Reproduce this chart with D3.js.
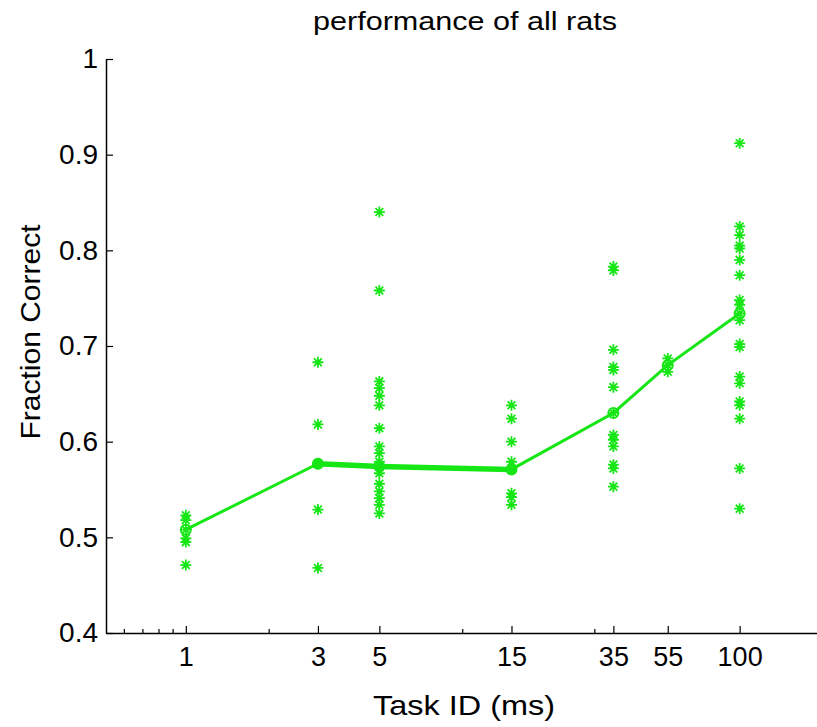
<!DOCTYPE html>
<html>
<head>
<meta charset="utf-8">
<script src="https://cdn.jsdelivr.net/npm/d3@7"></script>
<style>
  html, body { margin: 0; padding: 0; background: #fff; }
  svg text { font-family: "Liberation Sans", Arial, Helvetica, sans-serif; fill: #000; }
</style>
</head>
<body>
<div id="chart"></div>
<script>
const lineColor = '#16e616';
const axisColor = '#000';

// task durations (ms) on the log x axis
const tasks = [1, 3, 5, 15, 35, 55, 100];
const majorTicks = [1, 3, 5, 15, 35, 55, 100];
const minorTicks = [0.6, 0.7, 0.8, 0.9, 2, 10, 30];
const yTicks = [0.4, 0.5, 0.6, 0.7, 0.8, 0.9, 1];

// fraction correct of each rat, per task
const scores1 = [0.523, 0.518, 0.508, 0.499, 0.495, 0.471];
const scores3 = [0.683, 0.618, 0.577, 0.529, 0.468];
const scores5 = [0.840, 0.758, 0.663, 0.656, 0.648, 0.638, 0.614, 0.595, 0.588, 0.579,
  0.574, 0.567, 0.556, 0.548, 0.541, 0.534, 0.525];
const scores15 = [0.638, 0.624, 0.600, 0.579, 0.571, 0.546, 0.542, 0.534];
const scores35 = [0.783, 0.779, 0.696, 0.678, 0.675, 0.657, 0.630, 0.607, 0.602, 0.595,
  0.576, 0.572, 0.553];
const scores55 = [0.687, 0.680, 0.673];
const scores100 = [0.912, 0.825, 0.816, 0.805, 0.802, 0.790, 0.774, 0.748, 0.743, 0.734,
  0.727, 0.702, 0.699, 0.668, 0.661, 0.642, 0.638, 0.624, 0.572, 0.530];

// mean performance per task
const means = [0.508, 0.577, 0.574, 0.571, 0.630, 0.680, 0.734];
// tasks whose mean is drawn twice (thick segment, filled marker)
const doubledTasks = [3, 5, 15];

const width = 817;
const height = 727;

const allScores = [scores1, scores3, scores5, scores15, scores35, scores55, scores100];
const points = [];
allScores.forEach((list, i) => list.forEach(v => points.push({task: tasks[i], value: v})));
const meanPoints = tasks.map((t, i) => ({task: t, value: means[i]}));

const xScale = d3.scaleLog().domain([0.515, 200]).range([106, 823]);
const yScale = d3.scaleLinear().domain([0.4, 1]).range([633, 59]);

const svg = d3.select('#chart').append('svg')
  .attr('width', width)
  .attr('height', height);

// axes
const xAxis = svg.append('g')
  .attr('transform', `translate(0, ${yScale(0.4)})`)
  .call(d3.axisBottom(xScale).tickValues(majorTicks).tickFormat(d3.format('d')).tickSizeInner(-7).tickSizeOuter(0).tickPadding(14));
xAxis.select('.domain').attr('stroke', axisColor).attr('stroke-width', 1.5);
xAxis.selectAll('.tick line').attr('stroke', axisColor).attr('stroke-width', 1.2);
xAxis.selectAll('text').style('font-size', '27px').attr('dy', '0.7em');

svg.append('g')
  .selectAll('line')
  .data(minorTicks)
  .join('line')
  .attr('x1', d => xScale(d)).attr('x2', d => xScale(d))
  .attr('y1', yScale(0.4)).attr('y2', yScale(0.4) - 4)
  .attr('stroke', axisColor).attr('stroke-width', 1.2);

const yAxis = svg.append('g')
  .attr('transform', `translate(${xScale(0.515)}, 0)`)
  .call(d3.axisLeft(yScale).tickValues(yTicks).tickFormat(d => d === 1 ? '1' : d3.format('.1f')(d)).tickSizeInner(-7).tickSizeOuter(0).tickPadding(8));
yAxis.select('.domain').attr('stroke', axisColor).attr('stroke-width', 1.5);
yAxis.selectAll('.tick line').attr('stroke', axisColor).attr('stroke-width', 1.2);
yAxis.selectAll('text').style('font-size', '28px');

// mean line
const line = d3.line().x(d => xScale(d.task)).y(d => yScale(d.value));

svg.append('path')
  .datum(meanPoints)
  .attr('fill', 'none')
  .attr('stroke', lineColor)
  .attr('stroke-width', 3)
  .attr('d', line);

svg.append('path')
  .datum(meanPoints.filter(d => doubledTasks.includes(d.task)))
  .attr('fill', 'none')
  .attr('stroke', lineColor)
  .attr('stroke-width', 5.5)
  .attr('d', line);

// individual rats, drawn as 8-arm asterisks
const starPath = (r) => {
  const d = r * Math.SQRT1_2;
  return `M${-r},0L${r},0M0,${-r}L0,${r}M${-d},${-d}L${d},${d}M${-d},${d}L${d},${-d}`;
};

svg.append('g')
  .selectAll('path')
  .data(points)
  .join('path')
  .attr('transform', d => `translate(${xScale(d.task)}, ${yScale(d.value)})`)
  .attr('d', starPath(5.5))
  .attr('fill', 'none')
  .attr('stroke', lineColor)
  .attr('stroke-width', 1.8);

// mean markers
svg.append('g')
  .selectAll('circle')
  .data(meanPoints)
  .join('circle')
  .attr('cx', d => xScale(d.task))
  .attr('cy', d => yScale(d.value))
  .attr('r', 5)
  .attr('fill', d => doubledTasks.includes(d.task) ? lineColor : '#fff')
  .attr('fill-opacity', d => doubledTasks.includes(d.task) ? 1 : 0)
  .attr('stroke', lineColor)
  .attr('stroke-width', 2);

// labels
svg.append('text')
  .attr('x', 465).attr('y', 30)
  .attr('text-anchor', 'middle')
  .attr('textLength', 304)
  .attr('lengthAdjust', 'spacingAndGlyphs')
  .style('font-size', '25px')
  .text('performance of all rats');

svg.append('text')
  .attr('x', 464).attr('y', 715)
  .attr('text-anchor', 'middle')
  .attr('textLength', 182)
  .attr('lengthAdjust', 'spacingAndGlyphs')
  .style('font-size', '28px')
  .text('Task ID (ms)');

svg.append('text')
  .attr('transform', 'translate(40, 332) rotate(-90)')
  .attr('text-anchor', 'middle')
  .attr('textLength', 215)
  .attr('lengthAdjust', 'spacingAndGlyphs')
  .style('font-size', '28px')
  .text('Fraction Correct');
</script>
</body>
</html>
